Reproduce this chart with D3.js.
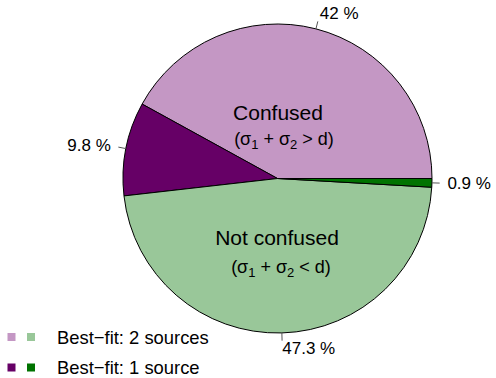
<!DOCTYPE html>
<html>
<head>
<meta charset="utf-8">
<script src="https://cdn.jsdelivr.net/npm/d3@7"></script>
<style>
  body { margin: 0; background: #fff; }
  text { font-family: "Liberation Sans", Arial, sans-serif; }
</style>
</head>
<body>
<div id="chart"></div>
<script>
// slices, counterclockwise from 3 o'clock (R pie order)
const sliceNames = ["Confused, 2 sources", "Confused, 1 source", "Not confused, 2 sources", "Not confused, 1 source"]
const sliceValues = [42, 9.8, 47.3, 0.9]
const sliceLabels = ["42 %", "9.8 %", "47.3 %", "0.9 %"]
const sliceColors = ["#c497c4", "#660066", "#99c799", "#007300"]

const legendLabels = ["Best\u2212fit: 2 sources", "Best\u2212fit: 1 source"]
const legendColors = [["#c497c4", "#99c799"], ["#660066", "#007300"]]

const WIDTH = 496, HEIGHT = 378
const CX = 277.5, CY = 178.5, R = 154.5

const svg = d3.select("#chart").append("svg")
  .attr("width", WIDTH)
  .attr("height", HEIGHT)

const g = svg.append("g")
  .attr("transform", `translate(${CX},${CY})`)

const data = sliceValues.map((v, i) => ({ name: sliceNames[i], value: v, label: sliceLabels[i], color: sliceColors[i] }))

// d3 angles: 0 at 12 o'clock clockwise -> start at 3 o'clock, go counterclockwise
const pie = d3.pie()
  .value(d => d.value)
  .sort(null)
  .startAngle(Math.PI / 2)
  .endAngle(Math.PI / 2 - 2 * Math.PI)

const arc = d3.arc().innerRadius(0).outerRadius(R)
const arcs = pie(data)

g.selectAll("path.slice")
  .data(arcs)
  .enter().append("path")
  .attr("class", "slice")
  .attr("d", arc)
  .attr("fill", d => d.data.color)
  .attr("stroke", "#000")
  .attr("stroke-width", 1)

// tick lines + percent labels
arcs.forEach(d => {
  const a = (d.startAngle + d.endAngle) / 2
  const sx = Math.sin(a), sy = -Math.cos(a)
  g.append("line")
    .attr("x1", sx * R).attr("y1", sy * R)
    .attr("x2", sx * R * 1.05).attr("y2", sy * R * 1.05)
    .attr("stroke", "#555")
    .attr("stroke-width", 1)
  g.append("text")
    .attr("x", sx * R * 1.1)
    .attr("y", sy * R * 1.1)
    .attr("text-anchor", sx < 0 ? "end" : "start")
    .attr("dominant-baseline", "central")
    .attr("font-size", "17px")
    .attr("fill", "#000")
    .text(d.data.label)
})

// group titles inside the pie
function condition(x, y, op) {
  const t = svg.append("text")
    .attr("x", x).attr("y", y)
    .attr("text-anchor", "middle")
    .attr("font-size", "18px")
    .attr("fill", "#000")
  t.append("tspan").text("(\u03c3")
  t.append("tspan").attr("font-size", "13px").attr("dy", 4).text("1")
  t.append("tspan").attr("dy", -4).text(" + \u03c3")
  t.append("tspan").attr("font-size", "13px").attr("dy", 4).text("2")
  t.append("tspan").attr("dy", -4).text(" " + op + " d)")
}

svg.append("text")
  .attr("x", 278).attr("y", 119.5)
  .attr("text-anchor", "middle")
  .attr("font-size", "21px")
  .text("Confused")
condition(284, 144.5, ">")

svg.append("text")
  .attr("x", 277).attr("y", 245)
  .attr("text-anchor", "middle")
  .attr("font-size", "21px")
  .text("Not confused")
condition(281, 273, "<")

// legend
const legend = svg.append("g")
legendLabels.forEach((lab, i) => {
  const y = 337 + i * 30.5
  legendColors[i].forEach((c, j) => {
    legend.append("rect")
      .attr("x", 7.5 + j * 19.5).attr("y", y - 4)
      .attr("width", 8).attr("height", 8)
      .attr("fill", c)
  })
  legend.append("text")
    .attr("x", 57).attr("y", y)
    .attr("dominant-baseline", "central")
    .attr("font-size", "18.4px")
    .text(lab)
})
</script>
</body>
</html>
